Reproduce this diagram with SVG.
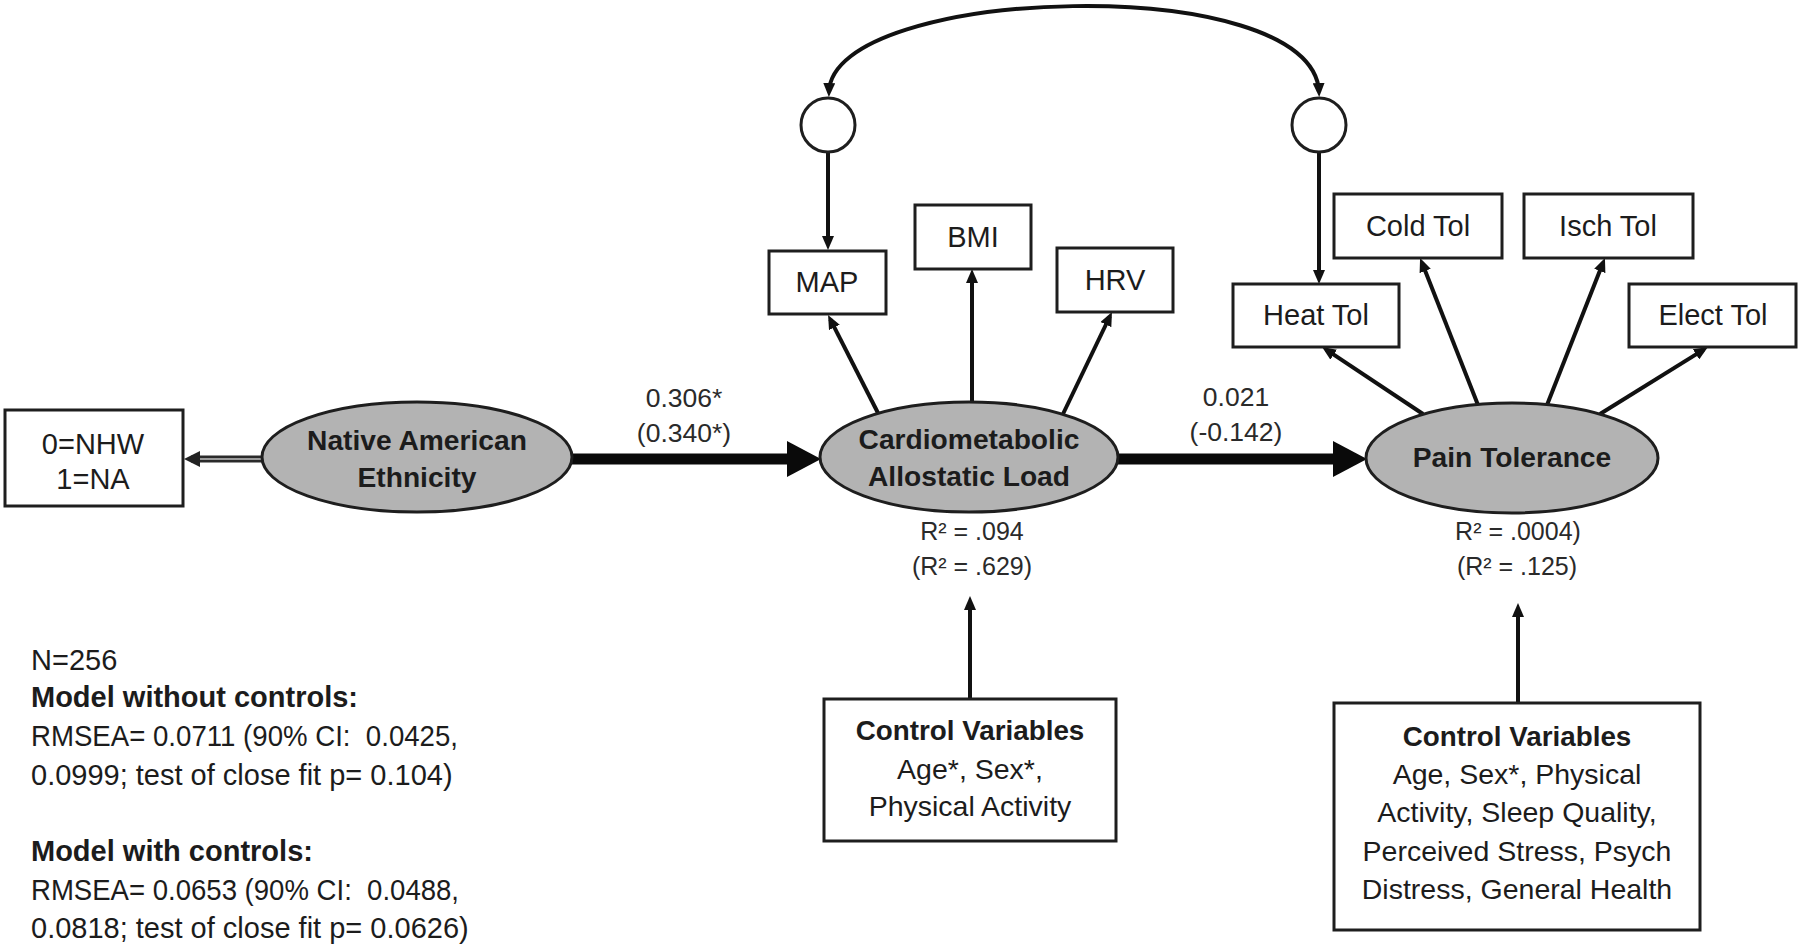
<svg xmlns="http://www.w3.org/2000/svg" width="1800" height="948" viewBox="0 0 1800 948">
<style>
text{font-family:"Liberation Sans",Arial,sans-serif;fill:#1c1c1c;text-anchor:middle}
.box{fill:#fff;stroke:#1e1e1e;stroke-width:3}
.ell{fill:#b3b3b3;stroke:#1e1e1e;stroke-width:3}
.circ{fill:#fff;stroke:#1e1e1e;stroke-width:3}
.lbl{font-size:29px}
.nl{font-size:28.2px;font-weight:bold}
.el{font-size:26.5px;fill:#2a2a2a}
.r2{font-size:25px;fill:#2a2a2a}
.cv{font-size:28.5px}
.cvb{font-size:27.8px;font-weight:bold}
.note{font-size:29px;text-anchor:start}
.noteb{font-size:29px;text-anchor:start;font-weight:bold}
.thin{fill:none;stroke:#111;stroke-width:4;marker-end:url(#ah)}
.thick{fill:none;stroke:#0a0a0a;stroke-width:11;marker-end:url(#ahBig)}
</style>
<defs>
<marker id="ah" markerUnits="userSpaceOnUse" markerWidth="14" markerHeight="12" refX="9" refY="6" orient="auto"><path d="M0,0 L14,6 L0,12 z" fill="#111"/></marker>
<marker id="ahS" markerUnits="userSpaceOnUse" markerWidth="14" markerHeight="12" refX="9" refY="6" orient="auto-start-reverse"><path d="M0,0 L14,6 L0,12 z" fill="#111"/></marker>
<marker id="ahN" markerUnits="userSpaceOnUse" markerWidth="16" markerHeight="16" refX="9" refY="8" orient="auto"><path d="M0,0 L16,8 L0,16 z" fill="#222"/></marker>
<marker id="ahBig" markerUnits="userSpaceOnUse" markerWidth="34" markerHeight="36" refX="0" refY="18" orient="auto"><path d="M0,0 L34,18 L0,36 z" fill="#0a0a0a"/></marker>
</defs>

<g id="connectors">
<path d="M829,92 C832,-15 1314,-30 1319,92" fill="none" stroke="#111" stroke-width="4" marker-start="url(#ahS)" marker-end="url(#ahS)"/>
<path class="thin" d="M828,152 L828,245"/>
<path class="thin" d="M1319,151 L1319,279"/>
<path d="M262,459 L191,459" fill="none" stroke="#2a2a2a" stroke-width="7" marker-end="url(#ahN)"/>
<path d="M262,459 L200,459" fill="none" stroke="#9a9a9a" stroke-width="2"/>
<path class="thick" d="M570,459 L787,459"/>
<path class="thick" d="M1116,459 L1333,459"/>
<path class="thin" d="M878,413 L830.3,319.4"/>
<path class="thin" d="M972,404 L972,274"/>
<path class="thin" d="M1063,414 L1109.8,316.5"/>
<path class="thin" d="M1423,414 L1326.2,349.7"/>
<path class="thin" d="M1478,405 L1421.9,262.6"/>
<path class="thin" d="M1547,405 L1603.1,262.6"/>
<path class="thin" d="M1600,414 L1703.7,349.6"/>
<path class="thin" d="M970,699 L970,601"/>
<path class="thin" d="M1518,703 L1518,608"/>
</g>

<g id="err-cardio"><circle class="circ" cx="828" cy="125" r="27"/></g>
<g id="err-pain"><circle class="circ" cx="1319" cy="125" r="27"/></g>

<g id="nhw-box">
<rect class="box" x="5" y="410" width="178" height="96"/>
<text class="lbl" x="93" y="454">0=NHW</text>
<text class="lbl" x="93" y="489">1=NA</text>
</g>

<g id="native-american">
<ellipse class="ell" cx="417" cy="457" rx="155" ry="55"/>
<text class="nl" x="417" y="450">Native American</text>
<text class="nl" x="417" y="487">Ethnicity</text>
</g>

<g id="cardio">
<ellipse class="ell" cx="969" cy="457" rx="149" ry="55"/>
<text class="nl" x="969" y="449">Cardiometabolic</text>
<text class="nl" x="969" y="486">Allostatic Load</text>
<text class="r2" x="972" y="540">R² = .094</text>
<text class="r2" x="972" y="575">(R² = .629)</text>
</g>

<g id="pain">
<ellipse class="ell" cx="1512" cy="458" rx="146" ry="55"/>
<text class="nl" x="1512" y="467">Pain Tolerance</text>
<text class="r2" x="1518" y="540">R² = .0004)</text>
<text class="r2" x="1517" y="575">(R² = .125)</text>
</g>

<g id="map"><rect class="box" x="769" y="251" width="117" height="63"/><text class="lbl" x="827" y="292">MAP</text></g>
<g id="bmi"><rect class="box" x="915" y="205" width="116" height="64"/><text class="lbl" x="973" y="247">BMI</text></g>
<g id="hrv"><rect class="box" x="1057" y="248" width="116" height="64"/><text class="lbl" x="1115" y="290">HRV</text></g>
<g id="heat"><rect class="box" x="1233" y="284" width="166" height="63"/><text class="lbl" x="1316" y="325">Heat Tol</text></g>
<g id="cold"><rect class="box" x="1334" y="194" width="168" height="64"/><text class="lbl" x="1418" y="236">Cold Tol</text></g>
<g id="isch"><rect class="box" x="1524" y="194" width="169" height="64"/><text class="lbl" x="1608" y="236">Isch Tol</text></g>
<g id="elect"><rect class="box" x="1629" y="284" width="167" height="63"/><text class="lbl" x="1713" y="325">Elect Tol</text></g>

<g id="edge-labels">
<text class="el" x="684" y="407">0.306*</text>
<text class="el" x="684" y="442">(0.340*)</text>
<text class="el" x="1236" y="406">0.021</text>
<text class="el" x="1236" y="441">(-0.142)</text>
</g>

<g id="controls-cardio">
<rect class="box" x="824" y="699" width="292" height="142"/>
<text class="cvb" x="970" y="740">Control Variables</text>
<text class="cv" x="970" y="779">Age*, Sex*,</text>
<text class="cv" x="970" y="816">Physical Activity</text>
</g>

<g id="controls-pain">
<rect class="box" x="1334" y="703" width="366" height="227"/>
<text class="cvb" x="1517" y="746">Control Variables</text>
<text class="cv" x="1517" y="784">Age, Sex*, Physical</text>
<text class="cv" x="1517" y="822">Activity, Sleep Quality,</text>
<text class="cv" x="1517" y="861">Perceived Stress, Psych</text>
<text class="cv" x="1517" y="899">Distress, General Health</text>
</g>

<g id="fit-notes">
<text class="note" x="31" y="670">N=256</text>
<text class="noteb" x="31" y="707">Model without controls:</text>
<text class="note" x="31" y="746" textLength="427" lengthAdjust="spacingAndGlyphs">RMSEA= 0.0711 (90% CI:&#160; 0.0425,</text>
<text class="note" x="31" y="785">0.0999; test of close fit p= 0.104)</text>
<text class="noteb" x="31" y="861">Model with controls:</text>
<text class="note" x="31" y="900" textLength="428" lengthAdjust="spacingAndGlyphs">RMSEA= 0.0653 (90% CI:&#160; 0.0488,</text>
<text class="note" x="31" y="938">0.0818; test of close fit p= 0.0626)</text>
</g>
</svg>
